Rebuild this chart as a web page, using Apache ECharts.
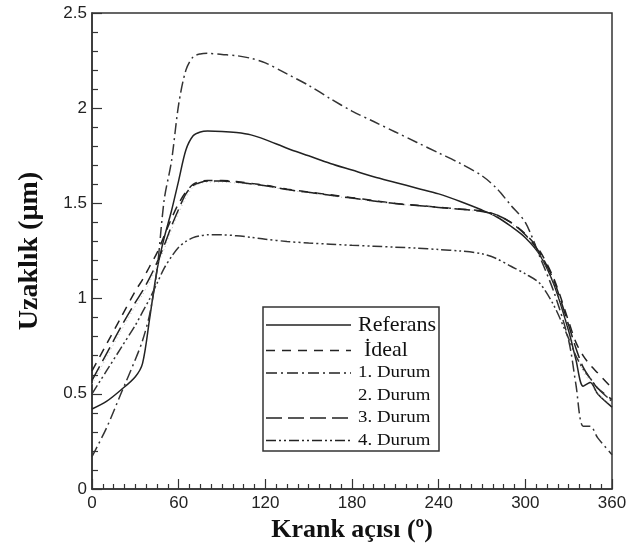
<!DOCTYPE html>
<html>
<head>
<meta charset="utf-8">
<script src="https://cdn.jsdelivr.net/npm/echarts@6/dist/echarts.min.js"></script>
<style>
  html, body { margin: 0; padding: 0; background: #fff; }
  #chart { width: 629px; height: 550px; }
</style>
</head>
<body>
<div id="chart"></div>
<script>
// Crank angle samples (degrees)
const krank = [0, 10, 20, 30, 35, 40, 45, 50, 55, 60, 65, 70, 75, 80, 90, 100, 110, 120, 135, 150, 165, 180, 195, 210, 225, 240, 255, 270, 280, 290, 300, 310, 320, 330, 335, 340, 345, 350, 360];

// Gap distance (µm) for each case
const referans = [0.42, 0.46, 0.52, 0.59, 0.66, 0.90, 1.15, 1.32, 1.46, 1.62, 1.78, 1.855, 1.875, 1.88, 1.878, 1.872, 1.86, 1.835, 1.79, 1.75, 1.71, 1.675, 1.64, 1.61, 1.58, 1.55, 1.51, 1.465, 1.43, 1.38, 1.32, 1.23, 1.07, 0.83, 0.68, 0.54, 0.56, 0.50, 0.43];
const ideal = [0.62, 0.76, 0.90, 1.04, 1.10, 1.17, 1.24, 1.33, 1.42, 1.50, 1.56, 1.60, 1.615, 1.62, 1.62, 1.615, 1.605, 1.595, 1.575, 1.56, 1.545, 1.53, 1.515, 1.50, 1.49, 1.48, 1.47, 1.46, 1.44, 1.40, 1.34, 1.25, 1.10, 0.88, 0.77, 0.70, 0.65, 0.61, 0.53];
const durum1 = [0.17, 0.32, 0.50, 0.68, 0.78, 0.92, 1.15, 1.52, 1.72, 2.02, 2.20, 2.27, 2.285, 2.288, 2.282, 2.276, 2.262, 2.238, 2.18, 2.12, 2.05, 1.985, 1.93, 1.875, 1.82, 1.765, 1.71, 1.645, 1.58, 1.49, 1.40, 1.22, 1.03, 0.78, 0.55, 0.33, 0.33, 0.27, 0.18];
const durum2 = [0.55, 0.69, 0.83, 0.96, 1.02, 1.09, 1.17, 1.26, 1.36, 1.45, 1.53, 1.585, 1.605, 1.612, 1.612, 1.607, 1.60, 1.59, 1.57, 1.555, 1.54, 1.525, 1.51, 1.497, 1.487, 1.477, 1.467, 1.455, 1.435, 1.395, 1.33, 1.235, 1.08, 0.85, 0.73, 0.62, 0.56, 0.50, 0.44];
const durum3 = [0.57, 0.71, 0.85, 0.98, 1.04, 1.11, 1.19, 1.28, 1.38, 1.47, 1.55, 1.595, 1.61, 1.617, 1.617, 1.612, 1.603, 1.593, 1.573, 1.558, 1.543, 1.528, 1.513, 1.499, 1.489, 1.479, 1.469, 1.458, 1.44, 1.40, 1.335, 1.24, 1.09, 0.86, 0.74, 0.64, 0.58, 0.53, 0.47];
const durum4 = [0.50, 0.62, 0.74, 0.86, 0.93, 1.00, 1.08, 1.16, 1.22, 1.27, 1.30, 1.32, 1.33, 1.335, 1.335, 1.33, 1.322, 1.312, 1.30, 1.292, 1.286, 1.28, 1.275, 1.27, 1.265, 1.258, 1.25, 1.235, 1.21, 1.17, 1.13, 1.08, 0.96, 0.79, 0.70, 0.63, 0.58, 0.53, 0.46];

// Axis tick labels
const xTicks = [0, 60, 120, 180, 240, 300, 360];
const yTicks = [0, 0.5, 1, 1.5, 2, 2.5];

const ink = '#222';
const pairs = vals => krank.map((k, i) => [k, vals[i]]);

const seriesDefs = [
  { name: 'Referans', data: referans, type: 'solid', width: 1.5, color: ink },
  { name: 'İdeal', data: ideal, type: [9, 7], width: 1.5, color: ink },
  { name: '1. Durum', data: durum1, type: [11, 4, 2, 4], width: 1.5, color: '#333' },
  { name: '2. Durum', data: durum2, type: [1, 3], width: 1, color: '#bbb' },
  { name: '3. Durum', data: durum3, type: [16, 6], width: 1.5, color: ink },
  { name: '4. Durum', data: durum4, type: [10, 3, 2, 3, 2, 3], width: 1.5, color: '#333' }
];

// Legend box rows: [label, font size, horizontal stretch, dash pattern or null]
const legendRows = [
  ['Referans', 22, 1, 'solid'],
  ['İdeal', 22, 1, [9, 7]],
  ['1. Durum', 16, 1.18, [11, 4, 2, 4]],
  ['2. Durum', 16, 1.18, null],
  ['3. Durum', 16, 1.18, [16, 6]],
  ['4. Durum', 16, 1.18, [10, 3, 2, 3, 2, 3]]
];

const chart = echarts.init(document.getElementById('chart'), null, { renderer: 'canvas' });

const legendTop = 307, legendLeft = 263;
const legendGraphics = [{
  type: 'rect',
  shape: { x: legendLeft, y: legendTop, width: 176, height: 144 },
  style: { fill: '#fff', stroke: '#333', lineWidth: 1.5 },
  z: 100
}];
legendRows.forEach((r, i) => {
  const y = legendTop + 18 + i * 22.5 + (i > 0 ? 3 : 0);
  if (r[3]) {
    legendGraphics.push({
      type: 'line',
      shape: { x1: legendLeft + 3, y1: y, x2: legendLeft + 88, y2: y },
      style: { stroke: ink, lineWidth: 1.5, lineDash: r[3] === 'solid' ? null : r[3] },
      z: 101
    });
  }
  legendGraphics.push({
    type: 'text',
    x: legendLeft + (i === 1 ? 101 : 95),
    y: y,
    scaleX: r[2],
    style: {
      text: r[0], fontFamily: 'Liberation Serif', fontSize: r[1],
      fill: '#111', verticalAlign: 'middle', align: 'left'
    },
    z: 101
  });
});

chart.setOption({
  animation: false,
  backgroundColor: '#fff',
  grid: {
    left: 92, right: 17, top: 13, bottom: 61,
    outerBoundsMode: 'none',
    containLabel: false,
    show: true, borderColor: '#333', borderWidth: 1.5, backgroundColor: 'transparent'
  },
  xAxis: {
    type: 'value', min: 0, max: 360, interval: 60,
    name: 'Krank açısı (º)', nameLocation: 'middle', nameGap: 23,
    nameTextStyle: { fontFamily: 'Liberation Serif', fontWeight: 'bold', fontSize: 26, color: '#111' },
    axisLine: { show: true, lineStyle: { color: '#333', width: 1.5 } },
    axisTick: { show: true, inside: true, length: 10, lineStyle: { color: '#333', width: 1.2 } },
    minorTick: { show: true, splitNumber: 8, length: 5, lineStyle: { color: '#333', width: 1.2 } },
    splitLine: { show: false },
    axisLabel: {
      margin: 6, fontFamily: 'Liberation Sans', fontSize: 17, color: '#222',
      formatter: v => xTicks.includes(v) ? String(v) : ''
    }
  },
  yAxis: {
    type: 'value', min: 0, max: 2.5, interval: 0.5,
    name: 'Uzaklık (µm)', nameLocation: 'middle', nameGap: 48,
    nameTextStyle: { fontFamily: 'Liberation Serif', fontWeight: 'bold', fontSize: 28, color: '#111' },
    axisLine: { show: true, lineStyle: { color: '#333', width: 1.5 } },
    axisTick: { show: true, inside: true, length: 10, lineStyle: { color: '#333', width: 1.2 } },
    minorTick: { show: true, splitNumber: 5, length: 6, lineStyle: { color: '#333', width: 1.2 } },
    splitLine: { show: false },
    axisLabel: {
      margin: 5, fontFamily: 'Liberation Sans', fontSize: 17, color: '#222',
      formatter: v => yTicks.includes(v) ? String(v) : ''
    }
  },
  series: seriesDefs.map(s => ({
    name: s.name,
    type: 'line',
    data: pairs(s.data),
    smooth: 0.3,
    showSymbol: false,
    lineStyle: { color: s.color, width: s.width, type: s.type },
    z: 2
  })),
  graphic: legendGraphics
});
</script>
</body>
</html>
